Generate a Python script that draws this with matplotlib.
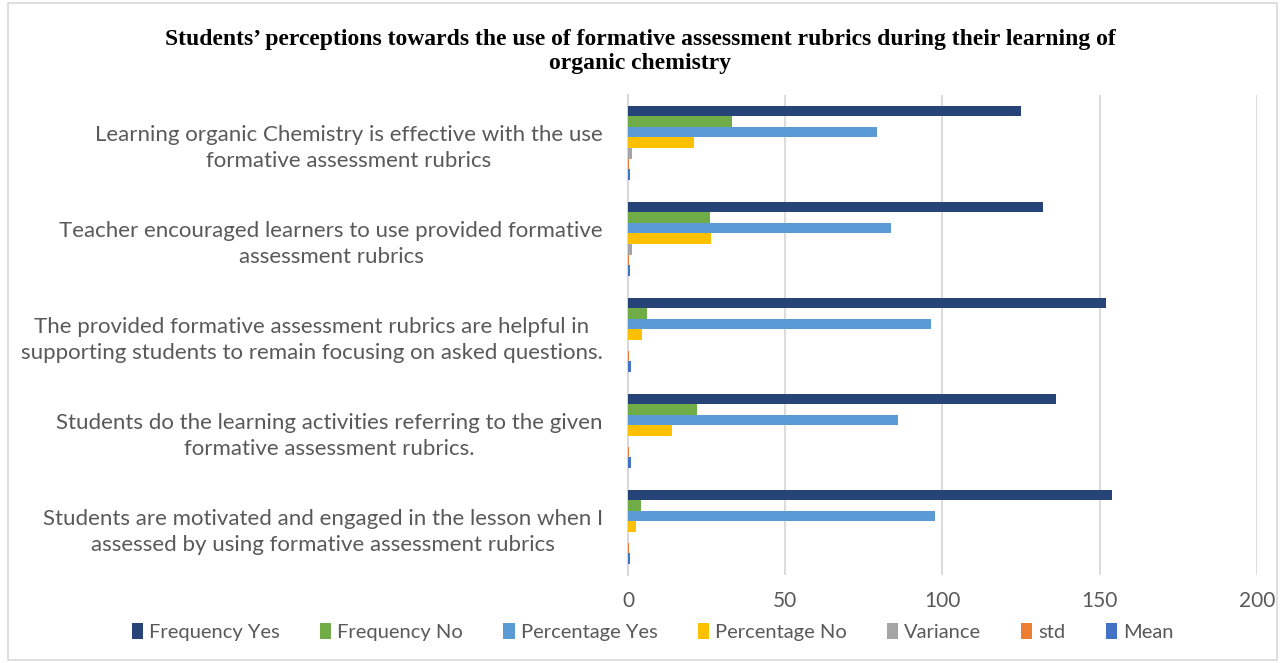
import numpy as np
import matplotlib
matplotlib.use("Agg")
from matplotlib import pyplot as plt
from matplotlib.patches import Rectangle

# statements, listed top to bottom as in the chart
categories = [
    "Learning organic Chemistry is effective with the use\nformative assessment rubrics",
    "Teacher encouraged learners to use provided formative\nassessment rubrics",
    "The provided formative assessment rubrics are helpful in\nsupporting students to remain focusing on asked questions.",
    "Students do the learning activities referring to the given\nformative assessment rubrics.",
    "Students are motivated and engaged in the lesson when I\nassessed by using formative assessment rubrics",
]

freq_yes = [125, 132, 152, 136, 154]
freq_no = [33, 26, 6, 22, 4]
pct_yes = [79.1, 83.5, 96.3, 86.0, 97.5]
pct_no = [20.9, 26.5, 4.6, 14.0, 2.5]
variance = [1.4, 1.2, 0.05, 0.1, 0.05]
std = [0.4, 0.4, 0.2, 0.4, 0.2]
mean = [0.7, 0.7, 0.85, 0.85, 0.6]

series_names = ["Frequency Yes", "Frequency No", "Percentage Yes", "Percentage No",
                "Variance", "std", "Mean"]
series_vals = [freq_yes, freq_no, pct_yes, pct_no, variance, std, mean]
colors = ["#264478", "#70AD47", "#5B9BD5", "#FFC000", "#A5A5A5", "#ED7D31", "#4472C4"]

font = "Lato"
fig = plt.figure(figsize=(12.8, 6.63), dpi=100)
ax = fig.add_axes([0.4906, 0.133, 0.4914, 0.724])

y = np.arange(len(categories))
h = 0.111
for i, (name, vals, c) in enumerate(zip(series_names, series_vals, colors)):
    ax.barh(y + (i - 3) * h, vals, height=h, color=c, label=name, zorder=3)

ax.set_ylim(len(categories) - 0.5, -0.5)
ax.set_xlim(0, 200)
ax.set_xticks([0, 50, 100, 150, 200])
ax.grid(axis="x", color="#D9D9D9", linewidth=1.3, zorder=0)
for s in ["top", "right", "bottom"]:
    ax.spines[s].set_visible(False)
ax.spines["left"].set_color("#D9D9D9")
ax.spines["left"].set_linewidth(1.5)
ax.tick_params(axis="both", length=0, colors="#595959")
ax.tick_params(axis="x", pad=12)
ax.tick_params(axis="y", pad=18)
ax.set_yticks(y)
ax.set_yticklabels(categories)
for lab in ax.get_yticklabels():
    lab.set_fontfamily(font)
    lab.set_fontsize(16)
    lab.set_multialignment("center")
    lab.set_linespacing(1.4)
for lab in ax.get_xticklabels():
    lab.set_fontfamily(font)
    lab.set_fontsize(15)

fig.text(0.5, 0.922, "Students\u2019 perceptions towards the use of formative assessment rubrics during their learning of\norganic chemistry",
         ha="center", va="center", fontfamily="Liberation Serif", fontweight="bold",
         fontsize=17, linespacing=1.2)

leg = fig.legend(loc="center", bbox_to_anchor=(0.51, 0.047), ncol=7, frameon=False,
                 prop={"family": font, "size": 14.5}, handlelength=0.55, handleheight=0.9,
                 handletextpad=0.3, columnspacing=2.0)
for t in leg.get_texts():
    t.set_color("#595959")

fig.patches.append(Rectangle((0.006, 0.004), 0.992, 0.992, transform=fig.transFigure,
                             fill=False, edgecolor="#D9D9D9", linewidth=1.2))

fig.savefig("out.png", dpi=100)
